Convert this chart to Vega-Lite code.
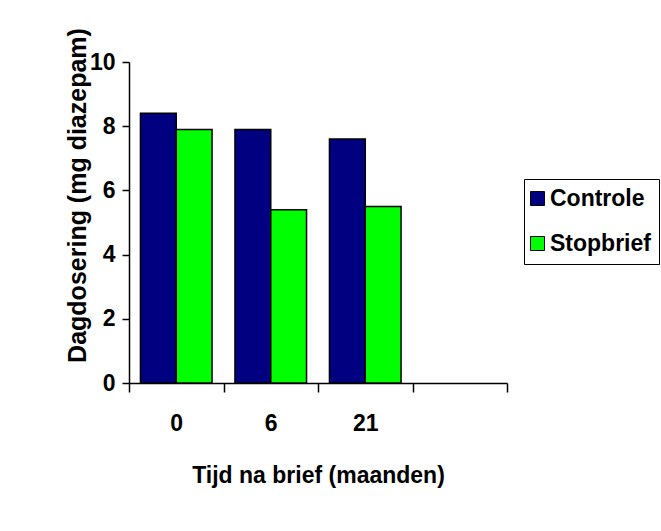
{
  "$schema": "https://vega.github.io/schema/vega-lite/v6.json",
  "width": 378,
  "height": 321,
  "autosize": {"type": "none"},
  "padding": {"left": 129, "top": 62, "right": 154, "bottom": 148},
  "background": "white",
  "config": {
    "font": "Liberation Sans",
    "view": {"stroke": null},
    "axis": {
      "grid": false,
      "domainColor": "black",
      "tickColor": "black",
      "domainWidth": 1.5,
      "tickWidth": 1.5,
      "labelColor": "black",
      "titleColor": "black",
      "labelFont": "Liberation Sans",
      "titleFont": "Liberation Sans",
      "labelFontWeight": "bold",
      "titleFontWeight": "bold"
    }
  },
  "data": {
    "values": [
      {"tijd": "0", "groep": "Controle", "dosis": 8.4},
      {"tijd": "0", "groep": "Stopbrief", "dosis": 7.9},
      {"tijd": "6", "groep": "Controle", "dosis": 7.9},
      {"tijd": "6", "groep": "Stopbrief", "dosis": 5.4},
      {"tijd": "21", "groep": "Controle", "dosis": 7.6},
      {"tijd": "21", "groep": "Stopbrief", "dosis": 5.5}
    ]
  },
  "mark": {"type": "bar", "stroke": "black", "strokeWidth": 1.5},
  "encoding": {
    "x": {
      "field": "tijd",
      "type": "nominal",
      "sort": null,
      "scale": {"domain": ["0", "6", "21", ""], "paddingInner": 0, "paddingOuter": 0},
      "axis": {
        "title": "Tijd na brief (maanden)",
        "labelAngle": 0,
        "tickBand": "extent",
        "tickSize": 9,
        "labelPadding": 20,
        "labelFontSize": 23,
        "titleFontSize": 23,
        "titleBaseline": "alphabetic",
        "titleY": 99
      }
    },
    "xOffset": {
      "field": "groep",
      "type": "nominal",
      "scale": {"domain": ["Controle", "Stopbrief"], "paddingInner": 0, "paddingOuter": 0.32}
    },
    "y": {
      "field": "dosis",
      "type": "quantitative",
      "scale": {"domain": [0, 10]},
      "axis": {
        "title": "Dagdosering (mg diazepam)",
        "values": [0, 2, 4, 6, 8, 10],
        "tickSize": 7,
        "labelPadding": 7,
        "labelFontSize": 23,
        "titleFontSize": 25,
        "titleAngle": -90,
        "titleBaseline": "alphabetic",
        "titleX": -44,
        "titleY": 133
      }
    },
    "color": {
      "field": "groep",
      "type": "nominal",
      "scale": {"domain": ["Controle", "Stopbrief"], "range": ["#000080", "#00FF00"]},
      "legend": {
        "title": null,
        "orient": "none",
        "legendX": 395,
        "legendY": 117,
        "strokeColor": "black",
        "fillColor": "white",
        "padding": 8,
        "symbolType": "square",
        "symbolSize": 196,
        "symbolOffset": -6,
        "symbolStrokeColor": "black",
        "symbolStrokeWidth": 1,
        "symbolOpacity": 1,
        "labelFontSize": 23,
        "labelFontWeight": "bold",
        "labelColor": "black",
        "labelFont": "Liberation Sans",
        "rowPadding": 21,
        "labelOffset": 1
      }
    }
  }
}
